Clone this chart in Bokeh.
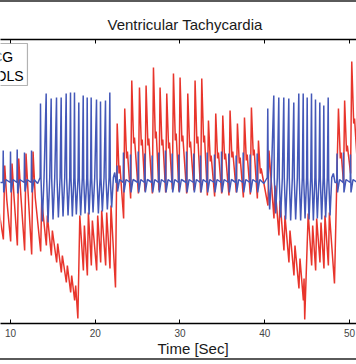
from bokeh.plotting import figure
from bokeh.models import Range1d, LinearAxis, FixedTicker, Title, BoxAnnotation, Label
from bokeh.embed import file_html
from bokeh.resources import INLINE

# ---- data (time in seconds, signal in arbitrary display units) ----
tick_values = [10, 20, 30, 40, 50]
tick_labels = ["10", "20", "30", "40", "50"]
legend_labels = ["ECG", "SYMBOLS"]

ecg_pre_vt1 = [(8.5,141),(9.11,141),(9.14,173),(9.20,131),(9.44,144),(9.97,141),(10.00,172),(10.06,131),(10.30,144),
    (10.76,141),(10.79,174),(10.85,130),(11.09,144),(11.62,141),(11.65,171),(11.71,132),(11.95,144),
    (12.45,141),(12.48,173),(12.54,131),(12.78,144),(13.20,140),(13.50,146)]
ecg_vt1 = [(13.54,220),(13.60,145),(13.76,102),(13.96,146),(14.21,230),(14.27,145),(14.43,101),(14.63,146),
    (14.80,225),(14.86,145),(15.02,104),(15.22,146),(15.43,226),(15.49,145),(15.65,106),(15.85,146),
    (15.98,226),(16.04,145),(16.20,107),(16.40,146),(16.57,230),(16.63,145),(16.79,108),(16.99,146),
    (17.08,231),(17.14,145),(17.30,107),(17.48,146),(17.55,231),(17.61,145),(17.77,109),(17.97,146),
    (18.06,221),(18.12,145),(18.28,108),(18.48,146),(18.58,228),(18.64,145),(18.80,110),(19.00,146),
    (19.05,226),(19.11,145),(19.27,109),(19.45,146),(19.52,226),(19.58,145),(19.74,111),(19.94,146),
    (20.15,224),(20.21,145),(20.37,110),(20.57,146),(20.62,222),(20.68,145),(20.84,112),(21.04,146),
    (21.21,223),(21.27,145),(21.43,114),(21.63,146),(21.72,231),(21.78,145),(21.94,116),(22.14,146),
    (22.30,151),(22.45,141)]
ecg_normal = [(22.54,141),(22.57,158),(22.63,132),(22.87,144),(23.30,141),(23.33,171),(23.39,131),(23.63,144),
    (24.13,141),(24.16,169),(24.22,131),(24.46,144),(25.04,141),(25.07,172),(25.13,131),(25.37,144),
    (25.82,141),(25.85,170),(25.91,131),(26.15,144),(26.69,141),(26.72,168),(26.78,131),(27.02,144),
    (27.47,141),(27.50,171),(27.56,131),(27.80,144),(28.26,141),(28.29,173),(28.35,131),(28.59,144),
    (29.05,141),(29.08,170),(29.14,131),(29.38,144),(29.83,141),(29.86,169),(29.92,131),(30.16,144),
    (30.74,141),(30.77,172),(30.83,131),(31.07,144),(31.60,141),(31.63,170),(31.69,131),(31.93,144),
    (32.39,141),(32.42,168),(32.48,131),(32.72,144),(33.18,141),(33.21,171),(33.27,131),(33.51,144),
    (34.04,141),(34.07,169),(34.13,131),(34.37,144),(34.87,141),(34.90,172),(34.96,131),(35.20,144),
    (35.73,141),(35.76,170),(35.82,131),(36.06,144),(36.60,141),(36.63,168),(36.69,131),(36.93,144),
    (37.43,141),(37.46,171),(37.52,131),(37.76,144),(38.25,141),(38.28,169),(38.34,131),(38.58,144),
    (39.08,141),(39.11,170),(39.17,131),(39.41,144),(39.90,140),(40.30,146)]
ecg_vt2 = [(40.36,215),(40.42,145),(40.58,114),(40.78,146),(41.07,228),(41.13,145),(41.29,110),(41.49,146),
    (41.66,226),(41.72,145),(41.88,106),(42.08,146),(42.25,226),(42.31,145),(42.47,104),(42.67,146),
    (42.84,225),(42.90,145),(43.06,103),(43.26,146),(43.43,221),(43.49,145),(43.65,104),(43.85,146),
    (44.02,230),(44.08,145),(44.24,103),(44.44,146),(44.54,230),(44.60,145),(44.76,105),(44.94,146),
    (45.01,226),(45.07,145),(45.23,104),(45.43,146),(45.52,230),(45.58,145),(45.74,103),(45.92,146),
    (45.99,224),(46.05,145),(46.21,105),(46.41,146),(46.50,221),(46.56,145),(46.72,104),(46.90,146),
    (46.97,218),(47.03,145),(47.19,106),(47.39,146),(47.49,226),(47.55,145),(47.71,108),(47.91,146),
    (48.10,150),(48.30,141)]
ecg_post_vt2 = [(48.50,141),(48.53,170),(48.59,131),(48.83,144),(49.26,141),(49.29,171),(49.35,131),(49.59,144),
    (50.09,141),(50.12,169),(50.18,131),(50.42,144),(50.92,141),(50.95,172),(51.01,131),(51.20,144)]

abp_pre_vt1 = [(8.5,120),(9.16,84),(9.32,158),(9.56,124),(10.02,82),(10.18,160),(10.42,126),(10.81,78),
    (10.97,165),(11.22,128),(11.67,73),(11.83,170),(12.08,130),(12.50,69),(12.66,172),(12.92,126),(13.56,72)]
abp_vt1 = [(13.68,123),(14.23,78),(14.35,108),(14.82,68),(14.94,93),(15.45,61),(15.57,80),(16.00,51),
    (16.12,68),(16.59,41),(16.71,58),(17.10,31),(17.22,48),(17.57,23),(17.69,38),(17.95,5),(18.18,108),
    (18.60,53),(18.72,98),(19.07,48),(19.19,111),(19.54,58),(19.66,103),(20.17,53),(20.29,108),(20.64,61),
    (20.76,113),(21.23,58),(21.35,111),(21.74,55),(21.86,118),(22.39,36)]
abp_normal = [(22.59,200),(22.81,150),(22.91,158),(23.35,105),(23.48,215),(23.70,165),(23.80,172),(24.18,125),
    (24.31,243),(24.53,180),(24.63,186),(25.09,130),(25.22,236),(25.44,178),(25.54,184),(25.87,132),
    (26.00,238),(26.22,178),(26.32,185),(26.74,130),(26.87,256),(27.09,185),(27.19,192),(27.52,133),
    (27.65,236),(27.87,178),(27.97,184),(28.31,131),(28.44,230),(28.66,175),(28.76,181),(29.10,134),
    (29.23,250),(29.45,183),(29.55,190),(29.88,132),(30.01,246),(30.23,182),(30.33,188),(30.79,130),
    (30.92,230),(31.14,176),(31.24,182),(31.65,133),(31.78,243),(32.00,180),(32.10,187),(32.44,131),
    (32.57,245),(32.79,181),(32.89,188),(33.23,128),(33.36,203),(33.58,162),(33.68,168),(34.09,127),
    (34.22,210),(34.44,165),(34.54,171),(34.92,130),(35.05,208),(35.27,164),(35.37,170),(35.78,128),
    (35.91,213),(36.13,166),(36.23,172),(36.65,131),(36.78,200),(37.00,160),(37.10,166),(37.48,126),
    (37.61,206),(37.83,163),(37.93,169),(38.30,129),(38.43,216),(38.65,168),(38.75,174),(39.13,125),
    (39.26,183),(39.48,150),(39.58,155),(40.38,118)]
abp_vt2 = [(40.50,173),(41.09,105),(41.21,138),(41.68,88),(41.80,123),(42.27,73),(42.39,108),(42.86,61),
    (42.98,93),(43.45,48),(43.57,78),(44.04,35),(44.16,65),(44.56,23),(44.64,45),(44.72,4),(45.13,110),
    (45.54,58),(45.66,98),(46.01,53),(46.13,105),(46.52,61),(46.64,101),(46.99,55),(47.11,108),(47.51,58),
    (47.63,111),(48.23,40)]
abp_post_vt2 = [(48.70,215),(48.92,165),(49.02,171),(49.30,140),(49.43,223),(49.65,172),(49.75,178),
    (50.13,150),(50.27,262),(50.50,200),(50.60,205),(51.00,150)]

ecg = ecg_pre_vt1 + ecg_vt1 + ecg_normal + ecg_vt2 + ecg_post_vt2
abp = abp_pre_vt1 + abp_vt1 + abp_normal + abp_vt2 + abp_post_vt2

FONT = "Liberation Sans"

p = figure(width=356, height=360, output_backend="svg", toolbar_location=None,
           x_range=Range1d(8.82, 50.83), y_range=Range1d(0, 284),
           x_axis_location=None, y_axis_location=None,
           min_border_left=0, min_border_right=0, min_border_top=37, min_border_bottom=39,
           styles={"border-top": "2px solid #5a5a5a", "border-bottom": "2px solid #5a5a5a"})
p.grid.visible = False
p.outline_line_color = None
p.background_fill_color = "white"
p.border_fill_color = "white"

p.line([a for a, b in abp], [b for a, b in abp], line_color="#e8352c", line_width=1.5)
p.line([a for a, b in ecg], [b for a, b in ecg], line_color="#4458b8", line_width=1.5)

ticker = FixedTicker(ticks=tick_values)
xb = LinearAxis(ticker=ticker, major_label_overrides={v: s for v, s in zip(tick_values, tick_labels)},
                axis_line_color="black", axis_line_width=1.3, major_tick_in=4, major_tick_out=0,
                major_tick_line_color="black", minor_tick_line_color=None,
                major_label_text_font=FONT, major_label_text_font_size="10px",
                major_label_text_color="#444444", major_label_standoff=5)
p.add_layout(xb, "below")
p.add_layout(Title(text="Time  [Sec]", align="left", offset=157, text_font=FONT, vertical_align="top",
                   text_font_size="15px", text_font_style="normal", text_color="#1a1a1a", standoff=0), "below")

xt = LinearAxis(ticker=ticker, axis_line_color="black", axis_line_width=1.3, major_tick_in=4, major_tick_out=0,
                major_tick_line_color="black", minor_tick_line_color=None,
                major_label_text_font_size="1px", major_label_text_color=None, major_label_standoff=0)
p.add_layout(xt, "above")
p.add_layout(Title(text="Ventricular Tachycardia", align="left", offset=107, text_font=FONT, vertical_align="top",
                   text_font_size="15px", text_font_style="normal", text_color="#1a1a1a", standoff=10), "above")

# legend box (partly outside the visible frame)
p.add_layout(BoxAnnotation(left=7.0, right=12.0, bottom=238, top=280, fill_color="white", fill_alpha=1,
                           line_color="black", line_width=1.2))
p.add_layout(Label(x=10.3, y=267, text=legend_labels[0], text_align="right", text_baseline="middle",
                   text_font=FONT, text_font_size="14px", text_color="black"))
p.add_layout(Label(x=11.55, y=248, text=legend_labels[1], text_align="right", text_baseline="middle",
                   text_font=FONT, text_font_size="14px", text_color="black"))

open("out.html", "w").write(file_html(p, INLINE))
